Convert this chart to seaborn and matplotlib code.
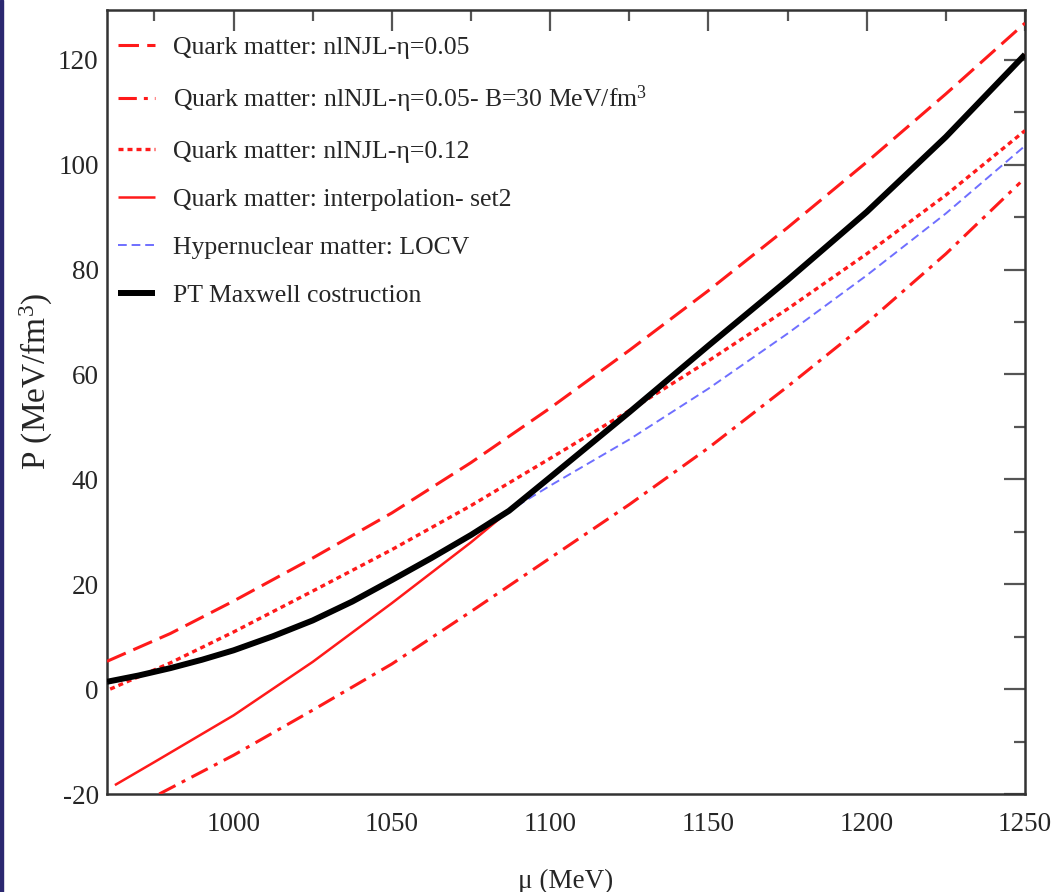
import matplotlib
matplotlib.use("Agg")
import matplotlib.pyplot as plt
import seaborn as sns
from matplotlib.ticker import MultipleLocator
from matplotlib.patches import Rectangle

# ---- data ----
mu_eta005 = [960, 980, 1000, 1025, 1050, 1075, 1100, 1125, 1150, 1175, 1200, 1225, 1250]
p_eta005 = [5.3, 10.6, 16.8, 25.0, 33.6, 43.2, 53.6, 64.6, 76.0, 88.0, 100.5, 113.5, 127.0]

mu_eta005B = [976.5, 1000, 1025, 1050, 1075, 1100, 1125, 1150, 1175, 1200, 1225, 1248.5]
p_eta005B = [-20.0, -12.6, -4.0, 4.8, 14.8, 25.0, 35.2, 46.0, 57.7, 69.8, 83.0, 96.6]

mu_eta012 = [961, 980, 1000, 1025, 1050, 1075, 1100, 1125, 1150, 1175, 1200, 1225, 1250]
p_eta012 = [0.0, 5.0, 10.9, 18.7, 26.6, 35.0, 44.0, 53.1, 62.6, 72.5, 83.0, 94.2, 106.5]

mu_interp = [962.5, 975, 1000, 1025, 1050, 1075, 1087, 1100, 1125, 1150, 1175, 1200, 1225, 1250]
p_interp = [-18.3, -13.9, -5.0, 5.2, 16.4, 28.0, 34.0, 40.4, 52.8, 65.5, 78.0, 91.0, 105.3, 121.0]

mu_locv = [960, 970, 980, 990, 1000, 1012.5, 1025, 1037.5, 1050, 1062.5, 1075, 1087,
           1100, 1125, 1150, 1175, 1200, 1225, 1250]
p_locv = [1.4, 2.6, 4.0, 5.6, 7.4, 10.1, 13.1, 16.7, 20.8, 25.0, 29.4, 34.0,
          38.8, 47.6, 57.3, 67.8, 78.9, 90.7, 103.6]

mu_maxwell = [960, 970, 980, 990, 1000, 1012.5, 1025, 1037.5, 1050, 1062.5, 1075, 1087,
              1100, 1125, 1150, 1175, 1200, 1225, 1250]
p_maxwell = [1.4, 2.6, 4.0, 5.6, 7.4, 10.1, 13.1, 16.7, 20.8, 25.0, 29.4, 34.0,
             40.4, 52.8, 65.5, 78.0, 91.0, 105.3, 121.0]

labels = [
    "Quark matter: nlNJL-η=0.05",
    "Quark matter: nlNJL-η=0.05- B=30 MeV/fm$^3$",
    "Quark matter: nlNJL-η=0.12",
    "Quark matter: interpolation- set2",
    "Hypernuclear matter: LOCV",
    "PT Maxwell costruction",
]
xticks = [1000, 1050, 1100, 1150, 1200, 1250]
yticks = [-20, 0, 20, 40, 60, 80, 100, 120]

# ---- style ----
sns.set_theme(style="white")
plt.rcParams["font.family"] = ["Liberation Serif", "DejaVu Serif"]
plt.rcParams["mathtext.fontset"] = "custom"
plt.rcParams["mathtext.rm"] = "Liberation Serif"
plt.rcParams["mathtext.it"] = "Liberation Serif:italic"
plt.rcParams["mathtext.bf"] = "Liberation Serif:bold"
plt.rcParams["axes.unicode_minus"] = False

fig = plt.figure(figsize=(10.61, 8.92), dpi=100)
fig.patch.set_facecolor("white")
ax = fig.add_axes([107 / 1061, 1 - 794 / 892, (1025 - 107) / 1061, (794 - 10) / 892])

red = "#ff1a1a"
series = [
    (mu_eta005, p_eta005, red, 2.2, (6.7, 2.7), labels[0], 3),
    (mu_eta005B, p_eta005B, red, 2.2, (6.0, 2.3, 1.3, 2.3), labels[1], 3),
    (mu_eta012, p_eta012, red, 2.4, (1.5, 1.2), labels[2], 3),
    (mu_interp, p_interp, red, 1.8, None, labels[3], 3),
    (mu_locv, p_locv, "#6f6fff", 1.4, (4.5, 2.5), labels[4], 4),
    (mu_maxwell, p_maxwell, "black", 4.3, None, labels[5], 5),
]
for x, y, c, lw, dash, lab, z in series:
    sns.lineplot(x=x, y=y, ax=ax, color=c, linewidth=lw, label=lab, zorder=z)
    line = ax.lines[-1]
    if dash is not None:
        line.set_dashes(dash)
    line.set_solid_capstyle("butt")
    line.set_solid_joinstyle("round")

ax.set_xlim(960, 1250)
ax.set_ylim(-20, 129.5)
ax.set_xticks(xticks)
ax.set_yticks(yticks)
ax.xaxis.set_minor_locator(MultipleLocator(25))
ax.yaxis.set_minor_locator(MultipleLocator(10))
ax.tick_params(which="both", direction="in", top=True, right=True, color="#555555")
ax.tick_params(which="major", length=15, width=1.6, labelsize=19.5)
ax.tick_params(which="minor", length=8, width=1.6)
ax.tick_params(axis="x", which="major", pad=13)
ax.tick_params(axis="y", which="major", pad=6)
for s in ax.spines.values():
    s.set_color("#333333")
    s.set_linewidth(1.8)

ax.set_xlabel("μ (MeV)", fontsize=19.5)
ax.set_ylabel("P (MeV/fm$^3$)", fontsize=24)
ax.xaxis.set_label_coords(0.5, -0.095)
ax.yaxis.set_label_coords(-0.057, 0.527)

leg = ax.legend(loc="upper left", bbox_to_anchor=(0.006, 0.974), frameon=False,
                fontsize=18.5, handlelength=1.45, handletextpad=0.7,
                labelspacing=0.97, borderaxespad=0.0, borderpad=0.2)

fig.patches.append(Rectangle((0, 0), 3 / 1061, 1, transform=fig.transFigure,
                             color="#2b2870", zorder=10))

fig.savefig("out.png", dpi=100)
